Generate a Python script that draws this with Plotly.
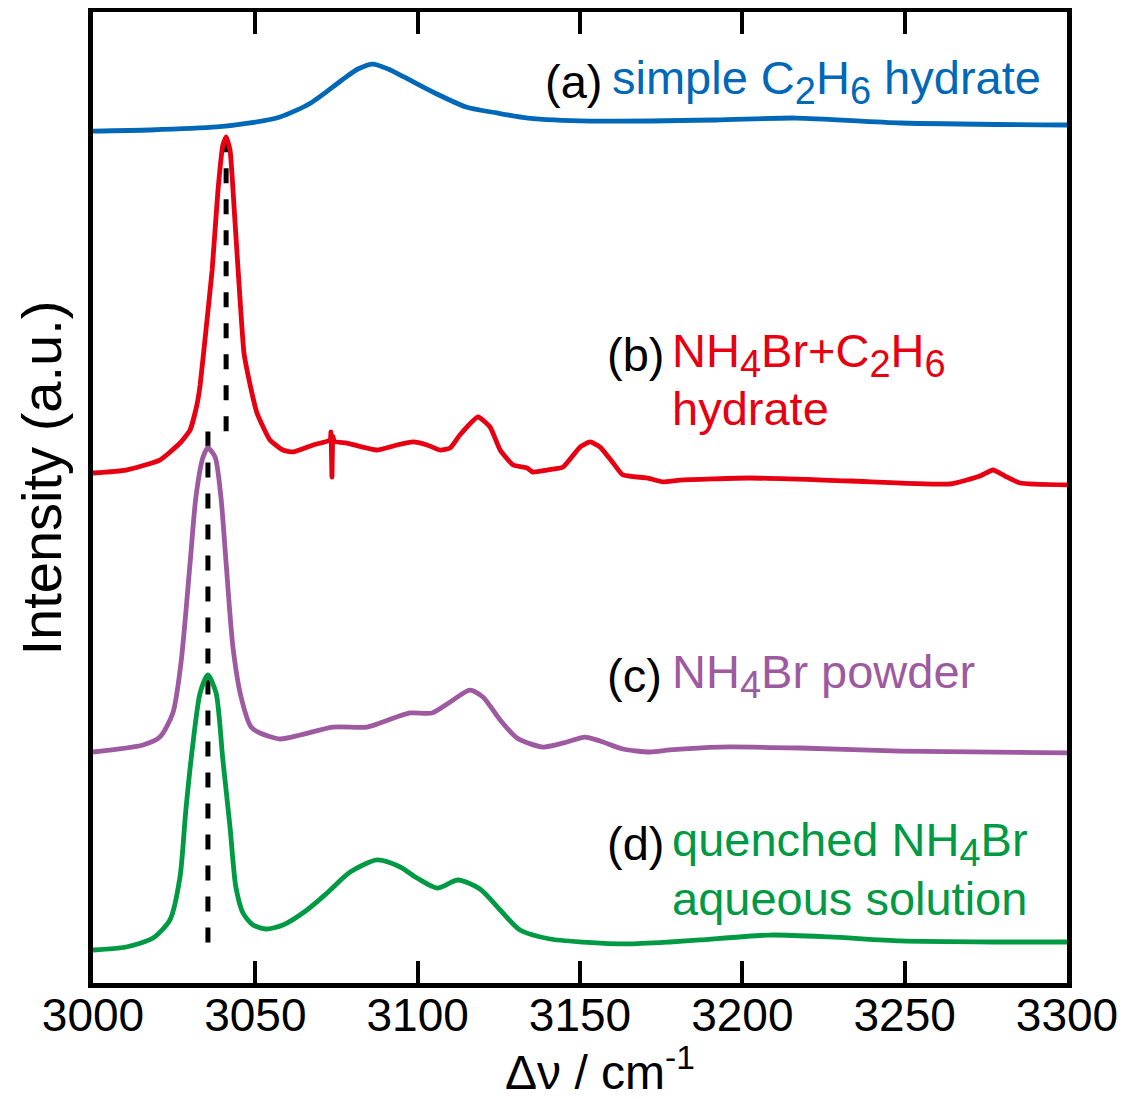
import plotly.graph_objects as go

# ---------------- data ----------------
# (a) simple C2H6 hydrate
wn_a = [3000.0, 3017.6, 3038.2, 3048.4, 3057.6, 3067.1, 3076.7, 3081.6, 3086.2, 3090.9,
        3095.8, 3105.3, 3114.9, 3124.4, 3134.0, 3153.1, 3191.6, 3216.5, 3248.9, 3300.0]
int_a = [87.74, 87.85, 88.16, 88.57, 89.19, 90.63, 93.00, 94.13, 94.64, 94.13,
         93.31, 91.66, 90.22, 89.60, 89.08, 88.77, 88.88, 89.08, 88.57, 88.36]

# (b) NH4Br + C2H6 hydrate
wn_b = [3000.0, 3010.2, 3020.6, 3026.8, 3029.9, 3032.0, 3033.0, 3034.8, 3036.7, 3038.5,
        3040.0, 3041.0, 3042.2, 3043.7, 3045.3, 3046.5, 3048.4, 3050.5, 3054.5, 3058.5,
        3061.6, 3067.8, 3073.0, 3073.3, 3073.6, 3073.9, 3074.3, 3078.2, 3087.5, 3093.6,
        3098.6, 3102.9, 3106.9, 3110.0, 3113.0, 3118.6, 3122.3, 3125.4, 3129.4, 3133.7,
        3135.5, 3139.8, 3144.8, 3150.0, 3153.1, 3156.2, 3160.2, 3163.2, 3170.6, 3175.6,
        3180.8, 3202.4, 3233.2, 3264.0, 3273.2, 3277.2, 3280.9, 3285.5, 3300.0]
int_b = [52.52, 52.83, 53.86, 55.61, 56.95, 59.53, 61.59, 67.25, 73.43, 81.67,
         86.30, 87.13, 85.79, 78.58, 70.34, 64.88, 61.59, 58.70, 55.92, 54.89,
         54.69, 55.41, 55.92, 56.75, 52.11, 56.30, 55.80, 55.61, 54.89, 55.41,
         55.72, 55.41, 54.89, 55.10, 56.44, 58.29, 57.26, 54.89, 53.35, 53.04,
         52.62, 52.83, 53.14, 55.20, 55.72, 55.20, 53.55, 52.32, 52.01, 51.60,
         51.80, 52.01, 51.70, 51.39, 52.21, 52.83, 52.21, 51.49, 51.29]

# (c) NH4Br powder
wn_c = [3000.0, 3015.4, 3020.6, 3024.6, 3027.1, 3029.9, 3031.7, 3033.9, 3035.4, 3037.6,
        3039.4, 3041.0, 3043.1, 3045.6, 3048.7, 3051.4, 3057.6, 3063.8, 3073.9, 3084.4,
        3089.3, 3097.6, 3104.4, 3110.0, 3116.1, 3120.1, 3125.4, 3130.6, 3138.6, 3146.0,
        3151.5, 3156.2, 3163.2, 3171.6, 3177.7, 3193.1, 3217.8, 3248.6, 3300.0]
int_c = [23.79, 24.51, 25.33, 27.81, 32.96, 43.25, 50.05, 54.17, 55.10, 54.17,
         50.05, 43.25, 34.60, 29.45, 26.36, 25.75, 25.13, 25.54, 26.36, 26.36,
         26.88, 27.81, 27.81, 28.94, 30.17, 29.45, 27.09, 25.23, 24.30, 24.82,
         25.33, 24.92, 24.10, 23.79, 24.00, 24.30, 24.20, 23.89, 23.69]

# (d) quenched NH4Br aqueous solution
wn_d = [3000.0, 3010.2, 3018.5, 3023.7, 3026.8, 3028.6, 3030.8, 3033.0, 3035.4, 3037.9,
        3040.0, 3042.2, 3044.0, 3046.2, 3049.3, 3053.3, 3058.5, 3065.9, 3072.1, 3079.2,
        3087.5, 3094.6, 3099.8, 3106.0, 3112.4, 3119.2, 3125.4, 3131.5, 3140.8, 3150.9,
        3164.5, 3177.7, 3187.0, 3208.5, 3227.0, 3248.6, 3279.4, 3300.0]
int_d = [3.40, 3.71, 4.63, 6.49, 10.92, 17.82, 24.72, 29.87, 31.72, 29.87,
         22.97, 16.07, 9.89, 7.21, 5.97, 5.56, 5.97, 7.52, 9.27, 11.43,
         12.67, 11.95, 10.81, 9.78, 10.61, 9.68, 7.52, 5.46, 4.53, 4.22,
         4.02, 4.22, 4.43, 4.94, 4.74, 4.33, 4.22, 4.22]

# peak-position guide lines (x, y_top, y_bottom)
guide_x = [3041.0, 3035.4]
guide_top = [87.1, 56.8]
guide_bottom = [55.9, 2.7]

x_ticks = [3000, 3050, 3100, 3150, 3200, 3250, 3300]

colors = {"a": "#0068b7", "b": "#e60012", "c": "#9e5aa0", "d": "#009944"}

FONT = "Liberation Sans, Arial, Helvetica, sans-serif"


def sub(d):
    return "<sub><span style='font-size:38px'>" + d + "</span></sub>"


fig = go.Figure()

for gx, gt, gb in zip(guide_x, guide_top, guide_bottom):
    fig.add_trace(go.Scatter(x=[gx, gx], y=[gt, gb], mode="lines",
                             line=dict(color="black", width=5, dash="15px,16px"),
                             hoverinfo="skip", showlegend=False))

for wn, it, key in [(wn_a, int_a, "a"), (wn_b, int_b, "b"), (wn_c, int_c, "c"), (wn_d, int_d, "d")]:
    fig.add_trace(go.Scatter(x=wn, y=it, mode="lines",
                             line=dict(color=colors[key], width=4.8, shape="spline",
                                       smoothing=0.7 if key != "b" else 0.45),
                             showlegend=False))

# labels
labels = [
    ("(a)", 3139.2, 92.8, "black"),
    ("simple C" + sub("2") + "H" + sub("6") + " hydrate", 3159.8, 92.8, colors["a"]),
    ("(b)", 3158.3, 64.7, "black"),
    ("NH" + sub("4") + "Br+C" + sub("2") + "H" + sub("6"), 3178.3, 64.7, colors["b"]),
    ("hydrate", 3178.3, 59.2, colors["b"]),
    ("(c)", 3158.3, 31.7, "black"),
    ("NH" + sub("4") + "Br powder", 3178.3, 31.7, colors["c"]),
    ("(d)", 3158.3, 14.4, "black"),
    ("quenched NH" + sub("4") + "Br", 3178.3, 14.4, colors["d"]),
    ("aqueous solution", 3178.3, 8.75, colors["d"]),
]
for txt, lx, ly, col in labels:
    fig.add_annotation(x=lx, y=ly, text=txt, showarrow=False, xanchor="left", yanchor="middle",
                       xshift=-2, font=dict(family=FONT, size=47, color=col))

# axis titles
fig.add_annotation(xref="paper", yref="paper", x=0.5205, y=-0.089, text="Δν / cm<sup>-1</sup>",
                   showarrow=False, xanchor="center", yanchor="middle",
                   font=dict(family=FONT, size=48, color="black"))
fig.add_annotation(xref="paper", yref="paper", x=-0.053, y=0.52, text="Intensity (a.u.)",
                   showarrow=False, xanchor="center", yanchor="middle", textangle=-90,
                   font=dict(family=FONT, size=56, color="black"))

# the page body adds an 8 px margin, so the figure is sized to fit inside it
fig.update_layout(
    width=1118, height=1091,
    margin=dict(l=85, r=59, t=4, b=116, pad=0),
    plot_bgcolor="white", paper_bgcolor="white",
    font=dict(family=FONT, color="black"),
    showlegend=False,
)
fig.update_xaxes(range=[3000, 3300], tickvals=x_ticks, ticktext=[str(v) for v in x_ticks],
                 ticks="inside", ticklen=22, tickwidth=4, tickcolor="black",
                 showline=True, linewidth=4.5, linecolor="black", mirror="ticks",
                 showgrid=False, zeroline=False, automargin=False,
                 ticklabelstandoff=-12,
                 tickfont=dict(family=FONT, size=46, color="black"))
fig.update_yaxes(range=[0, 100], showticklabels=False, ticks="",
                 showline=True, linewidth=4.5, linecolor="black", mirror=True,
                 showgrid=False, zeroline=False, automargin=False)

fig.write_html("out.html")
